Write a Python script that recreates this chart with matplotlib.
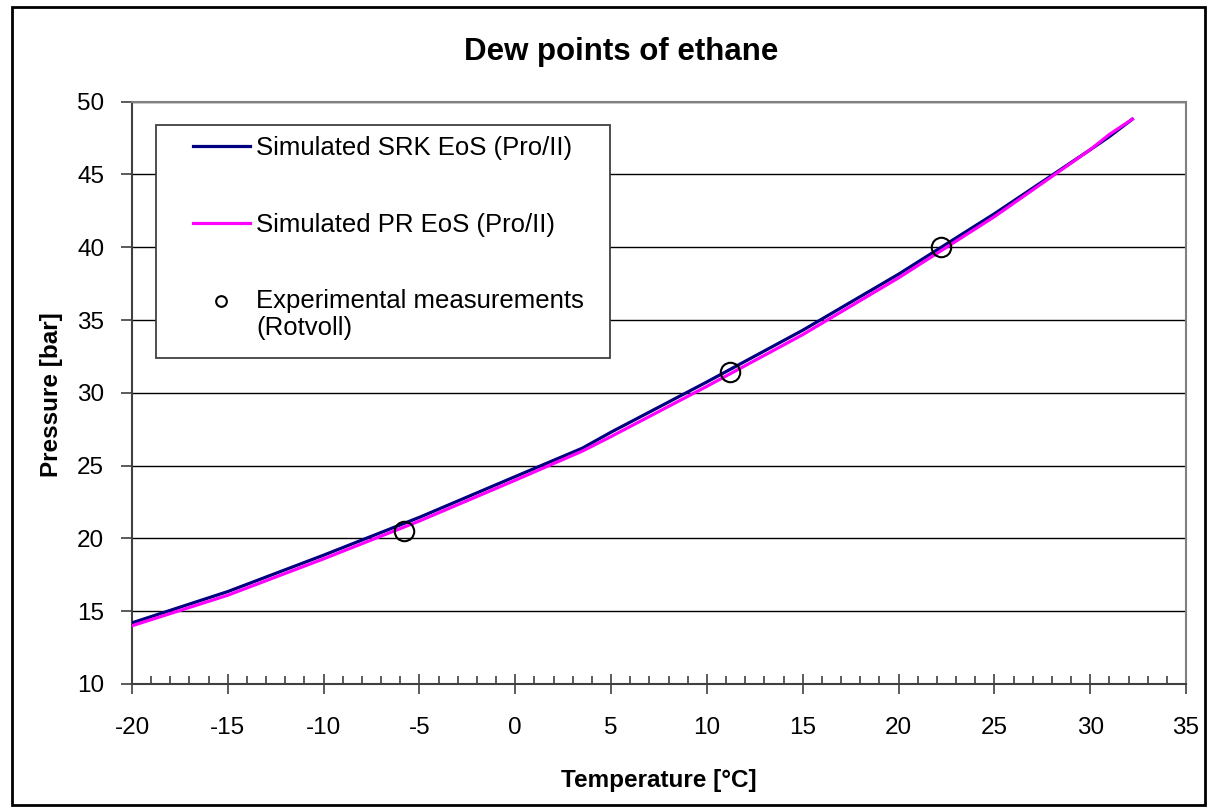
import matplotlib
matplotlib.use("Agg")
import matplotlib.pyplot as plt
from matplotlib.patches import Rectangle
from matplotlib.ticker import MultipleLocator

plt.rcParams['font.family'] = ['Liberation Sans', 'DejaVu Sans']
plt.rcParams['axes.unicode_minus'] = False

# simulated dew point curves (temperature in C, pressure in bar)
t_sim = [-20, -15, -10, -5, 0, 3.5, 5, 10, 15, 20, 25, 30, 31, 32.2]
p_srk = [14.2, 16.35, 18.85, 21.45, 24.25, 26.2, 27.3, 30.75, 34.3, 38.15, 42.3, 46.7, 47.6, 48.8]
p_pr = [14.0, 16.1, 18.6, 21.2, 24.0, 26.0, 27.0, 30.45, 34.0, 37.9, 42.1, 46.7, 47.75, 48.8]

# measured points
t_exp = [-5.8, 11.2, 22.2]
p_exp = [20.5, 31.4, 40.0]

W, H = 1212, 811
fig = plt.figure(figsize=(W / 100, H / 100), dpi=100)
ax = fig.add_axes([132 / W, 1 - 684 / H, (1186 - 132) / W, (684 - 101.7) / H])

ln_srk, = ax.plot(t_sim, p_srk, color='#000080', lw=2.3, zorder=3)
ln_pr, = ax.plot(t_sim, p_pr, color='#FF00FF', lw=2.3, zorder=4)
ln_exp, = ax.plot(t_exp, p_exp, ls='none', marker='o', ms=14, mfc='none', mec='black',
                  mew=1.5, zorder=5)

ax.set_xlim(-20, 35)
ax.set_ylim(10, 50)
ax.xaxis.set_major_locator(MultipleLocator(5))
ax.xaxis.set_minor_locator(MultipleLocator(1))
ax.yaxis.set_major_locator(MultipleLocator(5))
ax.grid(axis='y', color='black', lw=1)
ax.set_axisbelow(True)

for side in ['top', 'right']:
    ax.spines[side].set_color('#808080')
    ax.spines[side].set_linewidth(1.5)
for side in ['left', 'bottom']:
    ax.spines[side].set_color('#404040')
    ax.spines[side].set_linewidth(1.5)

ax.tick_params(axis='x', which='major', direction='inout', length=14, width=1.2,
               color='#404040', labelsize=17.5, pad=17)
ax.tick_params(axis='x', which='minor', direction='in', length=6, width=1.2, color='#404040')
ax.tick_params(axis='y', which='major', direction='out', length=8, width=1.2,
               color='#404040', labelsize=17.5, pad=12)

fig.text(621 / W, 1 - 52 / H, 'Dew points of ethane', ha='center', va='center',
         fontsize=22.5, fontweight='bold')
fig.text(659 / W, 1 - 780 / H, 'Temperature [°C]', ha='center', va='center',
         fontsize=17.5, fontweight='bold')
fig.text(52 / W, 1 - 395 / H, 'Pressure [bar]', ha='center', va='center',
         rotation=90, fontsize=17.5, fontweight='bold')

# legend: white box behind, entries on top
fig.patches.append(Rectangle((156 / W, 1 - 358 / H), (610 - 156) / W, (358 - 125) / H,
                             transform=fig.transFigure, fc='white', ec='#404040',
                             lw=1.3, zorder=6))
leg = fig.legend([ln_srk, ln_pr, ln_exp],
                 ['Simulated SRK EoS (Pro/II)', 'Simulated PR EoS (Pro/II)',
                  'Experimental measurements\n(Rotvoll)'],
                 loc='upper left', bbox_to_anchor=(193 / W, 1 - 136 / H),
                 frameon=False, fontsize=18.5, handlelength=2.2, handletextpad=0.27,
                 labelspacing=2.05, borderpad=0, borderaxespad=0, markerscale=0.55)
leg.set_zorder(7)
for t in leg.get_texts():
    t.set_linespacing(1.15)
# put the circle next to the first line of the two-line label
mk = leg.legend_handles[2]
mk.set_ydata([y + 10.5 for y in mk.get_ydata()])

# chart area border
fig.patches.append(Rectangle((12 / W, 1 - 805 / H), (1205 - 12) / W, (805 - 7) / H,
                             transform=fig.transFigure, fill=False, ec='black', lw=2))

fig.savefig('out.png', dpi=100)
